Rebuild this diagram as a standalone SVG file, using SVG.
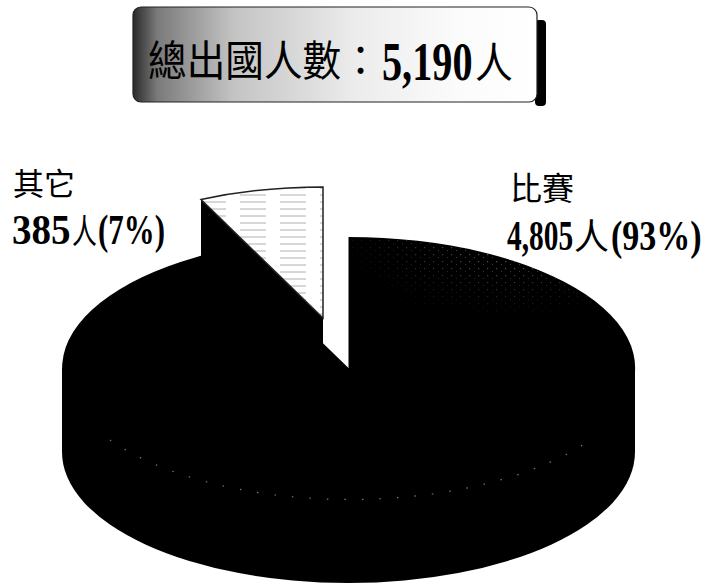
<svg xmlns="http://www.w3.org/2000/svg" width="706" height="587" viewBox="0 0 706 587">
  <defs>
    <style>
      .cjk { font-family: "Noto Sans CJK TC", "Noto Sans CJK SC", sans-serif; fill: #000; }
      .num { font-family: "Liberation Serif", "Noto Sans CJK TC", serif; font-weight: bold; fill: #000; }
      .solid { fill: #000; }
    </style>
    <linearGradient id="boxGrad" x1="0" y1="0" x2="1" y2="0">
      <stop offset="0" stop-color="#2a2a2a"/>
      <stop offset="0.06" stop-color="#7a7a7a"/>
      <stop offset="0.25" stop-color="#c4c4c4"/>
      <stop offset="0.55" stop-color="#ececec"/>
      <stop offset="0.8" stop-color="#fbfbfb"/>
      <stop offset="1" stop-color="#ffffff"/>
    </linearGradient>
    <pattern id="hatch" width="40" height="7" patternUnits="userSpaceOnUse">
      <rect width="40" height="7" fill="#fff"/>
      <line x1="0" y1="6" x2="26" y2="6" stroke="#9a9a9a" stroke-width="0.8"/>
    </pattern>
    <pattern id="speck" width="9" height="7" patternUnits="userSpaceOnUse">
      <rect x="1" y="2" width="1.2" height="1.2" fill="#8a8a8a"/>
      <rect x="6" y="5" width="1" height="1" fill="#6a6a6a"/>
    </pattern>
    <radialGradient id="speckFade" cx="0.55" cy="0.05" r="0.6">
      <stop offset="0" stop-color="#fff" stop-opacity="0.9"/>
      <stop offset="1" stop-color="#fff" stop-opacity="0"/>
    </radialGradient>
    <mask id="speckMask">
      <rect x="348" y="230" width="300" height="140" fill="url(#speckFade)"/>
    </mask>
  </defs>

  <!-- Title box -->
  <g id="title">
    <rect x="535" y="20" width="11" height="86" rx="4" fill="#000"/>
    <rect x="133" y="7" width="404" height="95" rx="8" fill="url(#boxGrad)" stroke="#222" stroke-width="1.2"/>
    <text class="cjk" font-size="42" transform="translate(148,76) scale(0.92,1)">總出國人數：</text>
    <text class="num" font-size="54" transform="translate(382,80) scale(0.745,1)">5,190</text>
    <text class="cjk" font-size="42" transform="translate(475,78) scale(0.9,1)">人</text>
  </g>

  <!-- Exploded slice: 其它 (7%) -->
  <g id="pie-other">
    <path class="solid" d="M201,199.5 L323,318 L323,402 L201,283.5 Z"/>
    <path d="M323,318 L201,199.5 A286.5 131 0 0 1 323,187 Z" fill="url(#hatch)" stroke="#222" stroke-width="1.5"/>
  </g>

  <!-- Main slice: 比賽 (93%) -->
  <g id="pie-main">
    <path class="solid" d="M62,368 L62,452 A286.5 131 0 0 0 635,452 L635,368 Z"/>
    <path class="solid" d="M348.5,368 L226.5,249.5 A286.5 131 0 1 0 348.5,237 Z"/>
    <path d="M348.5,368 L226.5,249.5 A286.5 131 0 1 0 348.5,237 Z" fill="url(#speck)" mask="url(#speckMask)"/>
    <path d="M110,440 A286.5 131 0 0 0 590,440" fill="none" stroke="#777" stroke-width="1.2" stroke-dasharray="1.5 16"/>
  </g>

  <g id="connectors"/>

  <!-- Labels -->
  <g id="label-other">
    <text class="cjk" x="13" y="195" font-size="31">其它</text>
    <text class="num" font-size="42" transform="translate(12,244) scale(0.93,1)">385</text>
    <text class="cjk" font-size="34" transform="translate(72,244) scale(0.73,1)">人</text>
    <text class="num" font-size="42" transform="translate(98,244) scale(0.736,1)">(7%)</text>
  </g>

  <g id="label-match">
    <text class="cjk" x="510" y="200" font-size="32">比賽</text>
    <text class="num" font-size="42" transform="translate(507,250) scale(0.7,1)">4,805</text>
    <text class="cjk" font-size="36" transform="translate(574,250) scale(0.97,1)">人</text>
    <text class="num" font-size="42" transform="translate(611,250) scale(0.81,1)">(93%)</text>
  </g>
</svg>
